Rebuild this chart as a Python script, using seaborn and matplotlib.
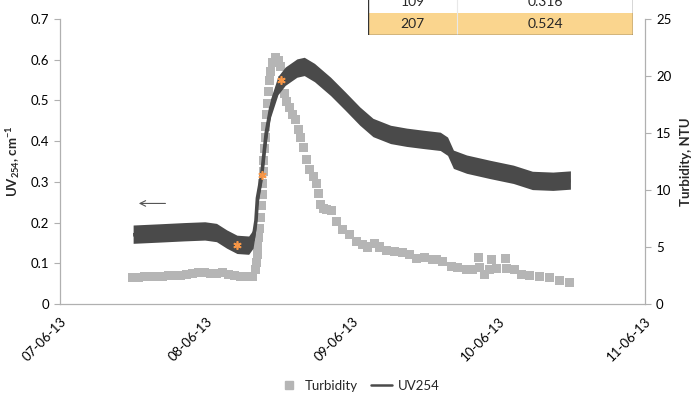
import pandas as pd
import matplotlib
matplotlib.use("Agg")
import matplotlib.pyplot as plt
import matplotlib.dates as mdates
from matplotlib.lines import Line2D
from matplotlib.patches import Rectangle
import seaborn as sns

# UV254 trace (days after 07-06-13 00:00, cm-1)
uv_days = [0.50, 0.68, 0.85, 0.99, 1.07, 1.14, 1.21, 1.29, 1.32, 1.34, 1.35,
           1.38, 1.41, 1.44, 1.49, 1.54, 1.62, 1.67, 1.74, 1.85, 1.95, 2.05,
           2.14, 2.26, 2.37, 2.48, 2.60, 2.65, 2.69, 2.78, 2.94, 3.10, 3.23,
           3.37, 3.49]
uv_vals = [0.170, 0.173, 0.176, 0.178, 0.174, 0.158, 0.145, 0.143, 0.158, 0.205,
           0.260, 0.320, 0.420, 0.480, 0.535, 0.558, 0.578, 0.582, 0.567, 0.533,
           0.497, 0.460, 0.432, 0.415, 0.408, 0.403, 0.398, 0.386, 0.354, 0.342,
           0.329, 0.317, 0.302, 0.300, 0.303]

# turbidity samples (days, NTU)
turb_days = [0.499, 0.540, 0.581, 0.622, 0.663, 0.704, 0.745, 0.786, 0.827,
             0.868, 0.909, 0.950, 0.991, 1.032, 1.073, 1.114, 1.155, 1.196,
             1.237, 1.278, 1.319,
             1.340, 1.347, 1.350, 1.353, 1.360, 1.367, 1.374, 1.381, 1.384,
             1.388, 1.391, 1.394, 1.401, 1.405, 1.408, 1.415, 1.422, 1.429,
             1.435, 1.442, 1.456, 1.476, 1.497, 1.511, 1.524, 1.538, 1.552,
             1.572, 1.593, 1.613, 1.634, 1.647, 1.668, 1.688, 1.709, 1.736,
             1.757, 1.770, 1.784, 1.805, 1.825, 1.859, 1.893, 1.934, 1.982,
             2.030, 2.071, 2.105, 2.153, 2.187, 2.235, 2.290, 2.344, 2.392,
             2.440, 2.495, 2.550, 2.577, 2.618, 2.679, 2.720, 2.782, 2.823,
             2.864, 2.871, 2.905, 2.939, 2.953, 2.987, 3.049, 3.055, 3.110,
             3.158, 3.213, 3.281, 3.349, 3.418, 3.486]
turb_vals = [2.3, 2.3, 2.4, 2.4, 2.4, 2.4, 2.5, 2.5, 2.5, 2.6, 2.7, 2.8, 2.8,
             2.7, 2.7, 2.8, 2.6, 2.5, 2.4, 2.4, 2.4,
             3.0, 3.6, 4.3, 5.0, 5.8, 6.6, 7.6, 8.6, 9.6, 10.6, 11.6, 12.6,
             13.6, 14.6, 15.6, 16.6, 17.6, 18.6, 19.6, 20.4, 21.2, 21.6, 21.4,
             20.8, 19.6, 18.5, 17.8, 17.2, 16.6, 16.2, 15.3, 14.6, 13.7, 12.7,
             11.8, 11.2, 10.6, 9.7, 8.7, 8.4, 8.3, 8.2, 7.2, 6.5, 6.1, 5.5,
             5.2, 5.0, 5.3, 5.0, 4.7, 4.6, 4.5, 4.3, 4.0, 4.1, 3.9, 3.9, 3.7,
             3.3, 3.2, 3.0, 3.0, 4.1, 3.2, 2.6, 3.0, 3.9, 3.1, 4.0, 3.1, 3.0,
             2.6, 2.5, 2.4, 2.3, 2.1, 1.9]

# sampled points marked on the UV curve
mark_days = [1.21, 1.38, 1.51]
mark_vals = [0.145, 0.316, 0.55]

# table in the upper right (only the last two rows are visible)
table_rows = [("109", "0.316"), ("207", "0.524")]

start = pd.Timestamp("2013-06-07")
uv = pd.DataFrame({"time": start + pd.to_timedelta(uv_days, unit="D"), "uv": uv_vals})
turb = pd.DataFrame({"time": start + pd.to_timedelta(turb_days, unit="D"), "turb": turb_vals})
marks = pd.DataFrame({"time": start + pd.to_timedelta(mark_days, unit="D"), "uv": mark_vals})

sns.set_style("white")
plt.rcParams["font.family"] = ["Lato", "DejaVu Sans"]
plt.rcParams["mathtext.fontset"] = "custom"
plt.rcParams["mathtext.rm"] = "Lato"
plt.rcParams["mathtext.bf"] = "Lato:bold"

axis_col = "#b0b0b0"
uv_col = "#4a4a4a"
turb_col = "#b5b5b5"

fig = plt.figure(figsize=(6.97, 3.94), dpi=100)
ax = fig.add_axes([60 / 697, 1 - 304 / 394, 585 / 697, 285 / 394])
ax2 = ax.twinx()

# turbidity squares on the secondary axis
sns.scatterplot(data=turb, x="time", y="turb", ax=ax2, marker="s", s=42,
                color=turb_col, edgecolor="none", linewidth=0, legend=False)

# UV254: noisy band drawn as an envelope around the trace
ax.set_zorder(ax2.get_zorder() + 1)
ax.patch.set_visible(False)
ax.fill_between(uv["time"], uv["uv"] - 0.021, uv["uv"] + 0.024,
                color=uv_col, linewidth=0)
sns.lineplot(data=uv, x="time", y="uv", ax=ax, color=uv_col, lw=2.6,
             solid_capstyle="butt")
ax.plot(marks["time"], marks["uv"], ls="none", marker=(6, 2, 0), ms=6,
        mew=1.2, color="#f79646")

ax.annotate("", xy=(start + pd.Timedelta(days=0.52), 0.247),
            xytext=(start + pd.Timedelta(days=0.74), 0.247),
            arrowprops=dict(arrowstyle="->", color="#555555", lw=0.8))

ax.set_xlim(start, start + pd.Timedelta(days=4))
ax.set_ylim(0, 0.7)
ax.set_yticks([0, 0.1, 0.2, 0.3, 0.4, 0.5, 0.6, 0.7])
ax.set_yticklabels(["0", "0.1", "0.2", "0.3", "0.4", "0.5", "0.6", "0.7"])
ax2.set_ylim(0, 25)
ax2.set_yticks([0, 5, 10, 15, 20, 25])

ax.xaxis.set_major_locator(mdates.DayLocator())
ax.xaxis.set_major_formatter(mdates.DateFormatter("%d-%m-%y"))
for lbl in ax.get_xticklabels():
    lbl.set_rotation(45)
    lbl.set_ha("right")
    lbl.set_rotation_mode("anchor")

for a in (ax, ax2):
    a.set_xlabel("")
    for s in a.spines.values():
        s.set_color(axis_col)
        s.set_linewidth(0.9)
    a.spines["top"].set_visible(False)
    a.tick_params(length=4, width=0.8, color=axis_col, labelsize=9.5,
                  labelcolor="black", direction="out", pad=4)
ax.spines["right"].set_visible(False)
ax2.spines["left"].set_visible(False)
ax2.spines["bottom"].set_visible(False)

ax.set_ylabel(r"UV$_\mathbf{254}$, cm$^\mathbf{-1}$", fontsize=9.5,
              fontweight="bold", labelpad=6)
ax2.set_ylabel("Turbidity, NTU", fontsize=9.5, fontweight="bold", labelpad=6)

# legend under the axis
handles = [Line2D([], [], marker="s", ls="none", color=turb_col, ms=6),
           Line2D([], [], color=uv_col, lw=1.8)]
fig.legend(handles, ["Turbidity", "UV254"], loc="lower center",
           bbox_to_anchor=(0.515, -0.025), ncol=2, frameon=False,
           fontsize=9.5, handlelength=1.6, handletextpad=0.4,
           columnspacing=1.0)

# partial data table cut by the top edge
tab = fig.add_axes([368 / 697, 1 - 35 / 394, 265 / 697, 44 / 394])
tab.set_xlim(0, 1)
tab.set_ylim(0, 2)
tab.axis("off")
split = (457 - 368) / 265
tab.add_patch(Rectangle((0, 0), 1, 1, facecolor="#fad58e", edgecolor="none"))
tab.add_patch(Rectangle((0, 1), 1, 1, facecolor="white", edgecolor="none"))
tab.plot([split, split], [0, 2], color="#e8e8e8", lw=0.8)
tab.plot([0, 0, 1, 1], [2, 0, 0, 2], color="#333333", lw=1.0)
for i, (a_txt, b_txt) in enumerate(reversed(table_rows)):
    tab.text(split / 2, i + 0.5, a_txt, ha="center", va="center", fontsize=10)
    tab.text((1 + split) / 2, i + 0.5, b_txt, ha="center", va="center", fontsize=10)

fig.savefig("out.png", dpi=100)
